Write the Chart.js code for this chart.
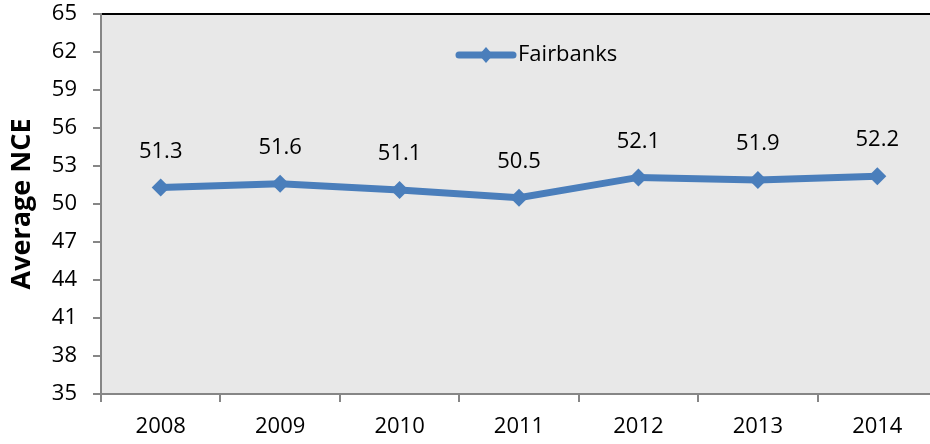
<!DOCTYPE html>
<html lang="en">
<head>
    <meta charset="UTF-8">
    <title>Average NCE - Fairbanks</title>
    <style>
        body { margin: 0; background: #fff; }
        #wrap { width: 930px; height: 444px; overflow: hidden; }
    </style>
</head>
<body>
    <div id="wrap">
        <canvas id="myChart" width="946" height="444" style="width:946px;height:444px"></canvas>
    </div>

    <script src="https://cdn.jsdelivr.net/npm/chart.js@4/dist/chart.umd.min.js"></script>
    <script>
    var years = ['2008', '2009', '2010', '2011', '2012', '2013', '2014'];
    var fairbanks = [51.3, 51.6, 51.1, 50.5, 52.1, 51.9, 52.2];
    var seriesName = 'Fairbanks';

    var blue = '#4a7ebb';
    var font = 'Open Sans';

    // plot background + black top border
    var plotFrame = {
        id: 'plotFrame',
        beforeDraw: (chart) => {
            const a = chart.chartArea, c = chart.ctx;
            c.save();
            c.fillStyle = '#e8e8e8';
            c.fillRect(a.left, a.top, a.right - a.left, a.bottom - a.top);
            c.fillStyle = '#000';
            c.fillRect(a.left, a.top - 1, a.right - a.left, 2);
            c.restore();
        }
    };

    // value labels above points
    var valueLabels = {
        id: 'valueLabels',
        afterDatasetsDraw: (chart) => {
            const c = chart.ctx;
            const meta = chart.getDatasetMeta(0);
            c.save();
            c.font = '22px "' + font + '"';
            c.fillStyle = '#000';
            c.textAlign = 'center';
            c.textBaseline = 'middle';
            meta.data.forEach((pt, i) => {
                c.fillText(chart.data.datasets[0].data[i].toFixed(1), pt.x, pt.y - 36);
            });
            c.restore();
        }
    };

    // legend drawn inside the plot
    var innerLegend = {
        id: 'innerLegend',
        afterDraw: (chart) => {
            const c = chart.ctx;
            const ds = chart.data.datasets[0];
            const y = 55, x0 = 456, x1 = 516;
            c.save();
            c.strokeStyle = ds.borderColor;
            c.lineWidth = 7;
            c.lineCap = 'round';
            c.beginPath();
            c.moveTo(x0 + 3, y);
            c.lineTo(x1 - 3, y);
            c.stroke();
            c.fillStyle = ds.borderColor;
            c.beginPath();
            c.moveTo(486, y - 8);
            c.lineTo(493, y);
            c.lineTo(486, y + 8);
            c.lineTo(479, y);
            c.closePath();
            c.fill();
            c.font = '22px "' + font + '"';
            c.fillStyle = '#000';
            c.textAlign = 'left';
            c.textBaseline = 'middle';
            c.fillText(ds.label, 518, y);
            c.restore();
        }
    };

    var ctx = document.getElementById('myChart');
    var myChart = new Chart(ctx, {
        type: 'line',
        data: {
            labels: years,
            datasets: [{
                label: seriesName,
                data: fairbanks,
                borderColor: blue,
                backgroundColor: blue,
                borderWidth: 7,
                pointStyle: 'rectRot',
                pointRadius: 9,
                pointHoverRadius: 9,
                pointBorderWidth: 0,
                tension: 0
            }]
        },
        options: {
            responsive: false,
            animation: false,
            layout: { padding: { top: 14, right: 0, bottom: 0, left: 0 } },
            plugins: {
                legend: { display: false },
                tooltip: { enabled: false }
            },
            scales: {
                x: {
                    offset: true,
                    grid: {
                        offset: true,
                        drawOnChartArea: false,
                        drawTicks: true,
                        tickLength: 8,
                        color: '#868686',
                        lineWidth: 2
                    },
                    border: { display: true, color: '#868686', width: 2 },
                    ticks: {
                        color: '#000',
                        padding: 12,
                        font: { family: font, size: 22 }
                    },
                    afterFit: (s) => { s.height = 50; }
                },
                y: {
                    min: 35,
                    max: 65,
                    ticks: {
                        stepSize: 3,
                        color: '#000',
                        padding: 16,
                        font: { family: font, size: 22 }
                    },
                    grid: {
                        drawOnChartArea: false,
                        drawTicks: true,
                        tickLength: 8,
                        color: '#868686',
                        lineWidth: 2
                    },
                    border: { display: true, color: '#868686', width: 2 },
                    title: {
                        display: true,
                        text: 'Average NCE',
                        color: '#000',
                        padding: { top: 6, bottom: 0 },
                        font: { family: font, size: 27, weight: 'bold' }
                    },
                    afterFit: (s) => {
                        s.width = 101;
                        s.paddingTop = 0;
                        s.paddingBottom = 0;
                    }
                }
            }
        },
        plugins: [plotFrame, valueLabels, innerLegend]
    });
    </script>
</body>
</html>
